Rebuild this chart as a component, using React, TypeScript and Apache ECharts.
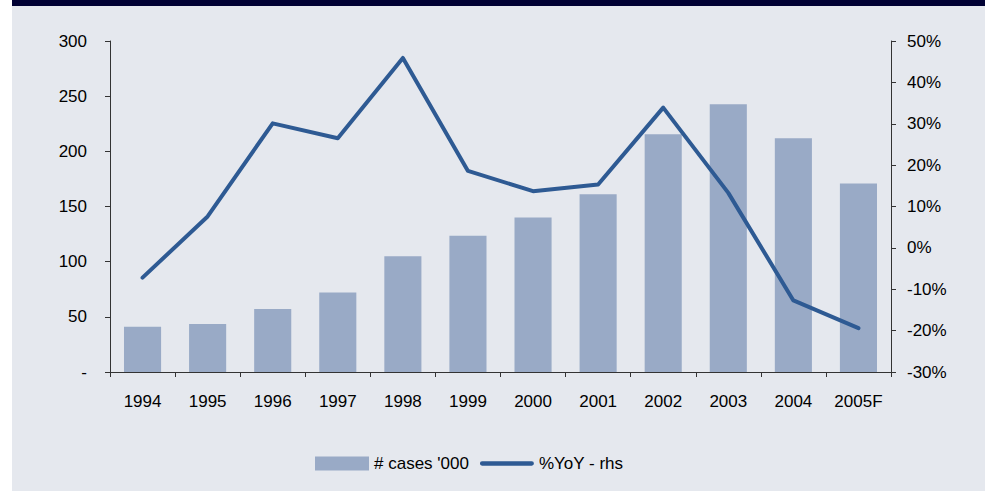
import React, { useEffect, useRef } from "react";
import * as echarts from "echarts";

const categories = ["1994", "1995", "1996", "1997", "1998", "1999", "2000", "2001", "2002", "2003", "2004", "2005F"];
const cases = [41, 43.6, 57, 72, 104.8, 123.6, 140, 161, 215.5, 242.7, 211.8, 170.9];
const yoy = [-7.2, 7.6, 30.1, 26.5, 45.9, 18.6, 13.7, 15.3, 33.9, 13.3, -12.7, -19.4];

const FONT = "'Liberation Sans', Arial, sans-serif";
const FS = 17;

export default function App() {
  const ref = useRef<HTMLDivElement>(null);
  useEffect(() => {
    if (!ref.current) return;
    const chart = echarts.init(ref.current, null, { renderer: "svg" });
    const axisLine = { show: true, lineStyle: { color: "#333", width: 1 } };
    const axisTick = { show: true, length: 5, lineStyle: { color: "#333", width: 1 } };
    chart.setOption({
      animation: false,
      backgroundColor: "#ffffff",
      textStyle: { fontFamily: FONT },
      graphic: [
        { type: "rect", left: 12, top: 0, shape: { width: 973, height: 491 }, style: { fill: "#E5E8EE" }, z: -10 },
        { type: "rect", left: 12, top: 0, shape: { width: 973, height: 6 }, style: { fill: "#000033" }, z: -9 },
      ],
      grid: { left: 110, right: 94, top: 41, bottom: 119 },
      legend: {
        left: 310,
        top: 450,
        itemWidth: 54,
        itemHeight: 14,
        itemGap: 11,
        textStyle: { fontSize: FS, color: "#000", fontFamily: FONT },
        data: [
          { name: "# cases '000", icon: "rect" },
          { name: "%YoY - rhs", icon: "path://M4,0 H96 A4,4 0 0 1 96,8 H4 A4,4 0 0 1 4,0 Z", itemStyle: { color: "#2E5A93" } },
        ],
      },
      xAxis: {
        type: "category",
        data: categories,
        axisLine,
        axisTick: { ...axisTick, alignWithLabel: false },
        axisLabel: { color: "#000", fontSize: FS, margin: 21, fontFamily: FONT },
      },
      yAxis: [
        {
          type: "value",
          min: 0,
          max: 300,
          interval: 50,
          position: "left",
          axisLine,
          axisTick,
          splitLine: { show: false },
          axisLabel: {
            color: "#000",
            fontSize: FS,
            margin: 23,
            fontFamily: FONT,
            formatter: (v: number) => (v === 0 ? "-" : String(v)),
          },
        },
        {
          type: "value",
          min: -30,
          max: 50,
          interval: 10,
          position: "right",
          axisLine,
          axisTick,
          splitLine: { show: false },
          axisLabel: {
            color: "#000",
            fontSize: FS,
            margin: 16,
            fontFamily: FONT,
            formatter: (v: number) => `${v}%`,
          },
        },
      ],
      series: [
        {
          name: "# cases '000",
          type: "bar",
          data: cases,
          yAxisIndex: 0,
          barWidth: "57%",
          itemStyle: { color: "#99AAC6" },
        },
        {
          name: "%YoY - rhs",
          type: "line",
          data: yoy,
          yAxisIndex: 1,
          symbol: "none",
          smooth: false,
          lineStyle: { color: "#2E5A93", width: 4, cap: "round", join: "round" },
          itemStyle: { color: "#2E5A93" },
        },
      ],
    });
    return () => chart.dispose();
  }, []);
  return <div ref={ref} style={{ position: "absolute", left: 0, top: 0, width: 985, height: 491 }} />;
}
